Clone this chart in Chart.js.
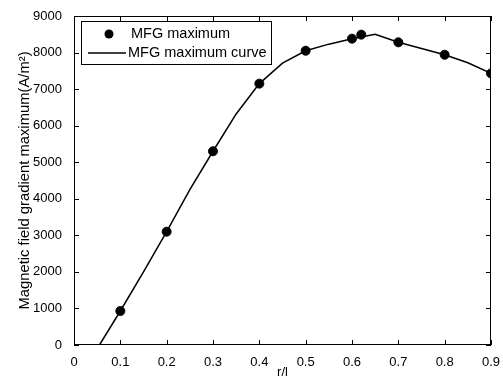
<!DOCTYPE html>
<html lang="en">
<head>
<meta charset="UTF-8">
<title>MFG maximum</title>
<script src="https://cdn.jsdelivr.net/npm/chart.js"></script>
<style>
  body { margin: 0; background: #fff; }
  #wrap { width: 503px; height: 380px; }
</style>
</head>
<body>
<div id="wrap"><canvas id="mfgChart"></canvas></div>
<script>
  // measured points
  const ptX = [0.1, 0.2, 0.3, 0.4, 0.5, 0.6, 0.62, 0.7, 0.8, 0.9];
  const ptY = [930, 3100, 5300, 7150, 8050, 8380, 8490, 8280, 7940, 7430];
  // fitted curve
  const curveX = [0.055, 0.1, 0.15, 0.2, 0.25, 0.3, 0.35, 0.4, 0.45, 0.5, 0.55, 0.6, 0.65, 0.7, 0.75, 0.8, 0.85, 0.9];
  const curveY = [0, 930, 2000, 3100, 4250, 5300, 6320, 7150, 7710, 8050, 8230, 8380, 8500, 8280, 8110, 7940, 7720, 7430];
  const xTicks = [0, 0.1, 0.2, 0.3, 0.4, 0.5, 0.6, 0.7, 0.8, 0.9];
  const yTicks = [0, 1000, 2000, 3000, 4000, 5000, 6000, 7000, 8000, 9000];

  const FONT = "'Liberation Sans', Arial, sans-serif";

  // MATLAB style box, inward ticks on all four sides, legend box
  const boxPlugin = {
    id: 'boxPlugin',
    afterDraw(chart) {
      const ctx = chart.ctx;
      const a = chart.chartArea;
      const xs = chart.scales.x, ys = chart.scales.y;
      ctx.save();
      ctx.strokeStyle = '#000';
      ctx.lineWidth = 1;
      ctx.strokeRect(a.left + 0.5, a.top + 0.5, a.right - a.left - 1, a.bottom - a.top - 1);
      ctx.beginPath();
      xTicks.forEach(v => {
        const px = Math.round(xs.getPixelForValue(v)) + 0.5;
        ctx.moveTo(px, a.bottom); ctx.lineTo(px, a.bottom - 5);
        ctx.moveTo(px, a.top); ctx.lineTo(px, a.top + 5);
      });
      yTicks.forEach(v => {
        const py = Math.round(ys.getPixelForValue(v)) + 0.5;
        ctx.moveTo(a.left, py); ctx.lineTo(a.left + 5, py);
        ctx.moveTo(a.right, py); ctx.lineTo(a.right - 5, py);
      });
      ctx.stroke();

      // legend
      const lx = a.left + 7, ly = a.top + 5, lw = 190, lh = 43;
      ctx.fillStyle = '#fff';
      ctx.fillRect(lx, ly, lw, lh);
      ctx.strokeRect(lx + 0.5, ly + 0.5, lw, lh);
      ctx.font = '14.5px ' + FONT;
      ctx.fillStyle = '#000';
      ctx.textBaseline = 'middle';
      const ds = chart.data.datasets;
      ctx.beginPath();
      ctx.arc(lx + 28, ly + 13, 4.5, 0, Math.PI * 2);
      ctx.fill();
      ctx.fillText(ds[0].label, lx + 50, ly + 13);
      ctx.beginPath();
      ctx.lineWidth = 1.5;
      ctx.moveTo(lx + 7, ly + 32); ctx.lineTo(lx + 45, ly + 32);
      ctx.stroke();
      ctx.fillText(ds[1].label, lx + 47, ly + 32);
      ctx.restore();
    }
  };

  new Chart(document.getElementById('mfgChart'), {
    type: 'scatter',
    data: {
      datasets: [
        {
          label: 'MFG maximum',
          data: ptX.map((x, i) => ({ x: x, y: ptY[i] })),
          backgroundColor: '#000',
          borderColor: '#000',
          pointRadius: 4.5,
          showLine: false,
          order: 0
        },
        {
          label: 'MFG maximum curve',
          data: curveX.map((x, i) => ({ x: x, y: curveY[i] })),
          borderColor: '#000',
          borderWidth: 1.5,
          pointRadius: 0,
          showLine: true,
          tension: 0,
          order: 1
        }
      ]
    },
    options: {
      responsive: true,
      maintainAspectRatio: false,
      animation: false,
      layout: { padding: { top: 16, right: 12 } },
      plugins: {
        legend: { display: false },
        tooltip: { enabled: false }
      },
      scales: {
        x: {
          type: 'linear',
          min: 0, max: 0.9,
          afterBuildTicks: s => { s.ticks = xTicks.map(v => ({ value: v })); },
          afterFit: s => { s.height = 35; },
          grid: { display: false },
          border: { display: false },
          ticks: {
            color: '#000', padding: 2,
            font: { family: FONT, size: 13 },
            callback: v => String(v)
          },
          title: {
            display: true, text: 'r/l', color: '#000',
            font: { family: FONT, size: 13 },
            padding: { top: 0, bottom: 0 }
          }
        },
        y: {
          min: 0, max: 9000,
          afterBuildTicks: s => { s.ticks = yTicks.map(v => ({ value: v })); },
          afterFit: s => { s.width = 74; },
          grid: { display: false },
          border: { display: false },
          ticks: {
            color: '#000', padding: 4,
            font: { family: FONT, size: 13 },
            callback: v => String(v)
          },
          title: {
            display: true, text: 'Magnetic field gradient maximum(A/m²)', color: '#000',
            font: { family: FONT, size: 14.8 },
            padding: { top: 16, bottom: 0 }
          }
        }
      }
    },
    plugins: [boxPlugin]
  });
</script>
</body>
</html>
